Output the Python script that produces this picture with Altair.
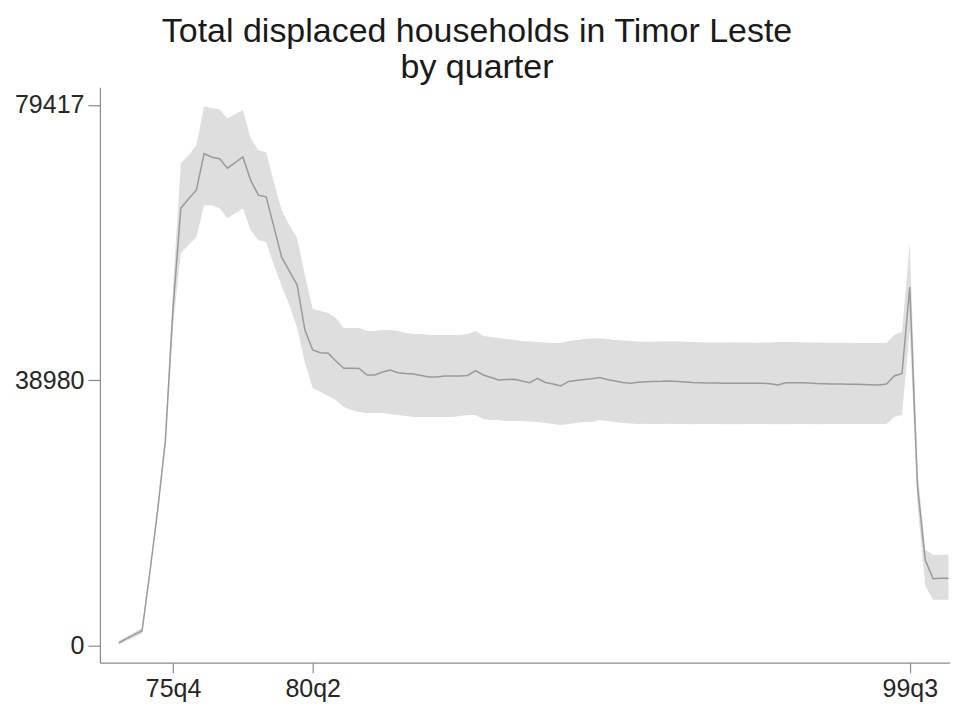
import altair as alt
import pandas as pd

# Quarterly series, 1974q1 .. 2000q4
years = list(range(1974, 2001))
quarters = [f"{str(y)[2:]}q{q}" for y in years for q in range(1, 5)]

mean_hh = [
    340, 970, 1560, 2140, 10700, 19760, 30040,            # 74q1..75q3
    49710, 64250, 65630, 66890, 72280, 71740, 71520, 70120, 70930, 71780,
    68360, 66160, 65910, 61500, 57050, 55000, 52940, 46340,
    43400, 43000, 42920, 41790, 40710, 40710, 40680, 39730, 39730, 40170,
    40460, 40070, 39950, 39880, 39660, 39440, 39440, 39580, 39580, 39580,
    39660, 40360, 39730, 39360, 38990, 39070, 39100, 38850, 38600, 39240,
    38630, 38410, 38110, 38780, 38920, 39070, 39170, 39360, 39070, 38850,
    38630, 38510, 38670, 38750, 38780, 38800, 38850, 38780, 38700, 38630,
    38600, 38550, 38550, 38520, 38510, 38510, 38510, 38510, 38510, 38440,
    38260, 38600, 38600, 38600, 38550, 38480, 38440, 38410, 38410, 38380,
    38360, 38330, 38300, 38260, 38410, 39580, 39950,
    52650, 23290, 12570, 9780, 9850, 9850,
]
upper_hh = [
    680, 1260, 1920, 2580, 11100, 20200, 30630,
    52940, 70850, 72030, 73500, 79220, 78930, 78780, 77460, 78050, 78640,
    74520, 72760, 72470, 68070, 63950, 61750, 59840, 54410,
    49420, 49130, 48830, 48100, 46630, 46630, 46630, 46190, 46190, 46340,
    46340, 46190, 45900, 45750, 45750, 45600, 45600, 45600, 45600, 45600,
    45750, 46190, 45460, 45310, 45160, 45010, 44870, 44720, 44650, 44570,
    44500, 44430, 44430, 44720, 44870, 45010, 45090, 45120, 45010, 44870,
    44790, 44720, 44650, 44620, 44600, 44650, 44700, 44680, 44600, 44560,
    44540, 44520, 44500, 44520, 44540, 44520, 44500, 44480, 44500, 44520,
    44560, 44580, 44560, 44540, 44520, 44500, 44480, 44470, 44460, 44450,
    44440, 44430, 44430, 44430, 44430, 45600, 46090,
    59110, 25780, 14040, 13300, 13300, 13300,
]
lower_hh = [
    160, 680, 1190, 1700, 10290, 19320, 29450,
    47070, 57640, 58820, 59990, 64690, 64690, 64250, 62780, 63510, 64250,
    61020, 59550, 59260, 55880, 52800, 50010, 46630, 41490,
    37820, 37230, 36650, 36060, 35030, 34590, 34300, 34150, 34150, 34150,
    34000, 33860, 33710, 33560, 33560, 33560, 33560, 33560, 33560, 33710,
    33860, 33860, 33270, 33120, 33120, 32980, 32980, 32980, 32900, 32830,
    32680, 32540, 32390, 32540, 32680, 32830, 32830, 33120, 32980, 32830,
    32680, 32610, 32540, 32560, 32520, 32540, 32560, 32540, 32520, 32500,
    32520, 32540, 32520, 32500, 32480, 32500, 32520, 32540, 32520, 32500,
    32480, 32500, 32520, 32540, 32520, 32500, 32520, 32540, 32520, 32540,
    32540, 32520, 32540, 32540, 32540, 33560, 33860,
    46340, 20640, 8750, 6690, 6690, 6690,
]

tick_labels = ["75q4", "80q2", "99q3"]
y_ticks = [0, 38980, 79417]

df = pd.DataFrame({
    "idx": list(range(len(quarters))),
    "quarter": quarters,
    "mean": mean_hh,
    "upper": upper_hh,
    "lower": lower_hh,
})

tick_idx = [quarters.index(q) for q in tick_labels]
label_expr = " : ".join(
    f"datum.value == {i} ? '{lab}'" for i, lab in zip(tick_idx, tick_labels)
) + " : ''"

x_scale = alt.Scale(domain=[-2.44, 107.19], nice=False, zero=False)
y_scale = alt.Scale(domain=[-2555, 82016], nice=False, zero=False)

x_axis = alt.Axis(
    values=tick_idx, labelExpr=label_expr, title=None, grid=False,
    tickSize=10, labelFontSize=25, labelPadding=4, labelFont="Liberation Sans",
    labelColor="#262626", domainColor="#8a8a8a", tickColor="#8a8a8a",
    domainWidth=1.2, tickWidth=1.2, labelFlush=False,
)
y_axis = alt.Axis(
    values=y_ticks, format="d", title=None, grid=False,
    tickSize=12, labelFontSize=25, labelPadding=4, labelFont="Liberation Sans",
    labelColor="#262626", domainColor="#8a8a8a", tickColor="#8a8a8a",
    domainWidth=1.2, tickWidth=1.2,
)

band = alt.Chart(df).mark_area(color="#dedede", opacity=1).encode(
    x=alt.X("idx:Q", scale=x_scale, axis=x_axis),
    y=alt.Y("lower:Q", scale=y_scale, axis=y_axis),
    y2="upper:Q",
)
line = alt.Chart(df).mark_line(color="#9a9a9a", strokeWidth=1.5).encode(
    x=alt.X("idx:Q", scale=x_scale),
    y=alt.Y("mean:Q", scale=y_scale),
)

chart = (band + line).properties(
    width=851,
    height=576,
    autosize=alt.AutoSizeParams(type="none"),
    padding={"left": 92, "top": 79, "right": 0, "bottom": 42},
    title=alt.TitleParams(
        ["Total displaced households in Timor Leste", "by quarter"],
        fontSize=34, font="Liberation Sans", fontWeight="normal",
        color="#1a1a1a", anchor="middle", frame="bounds", offset=2,
        lineHeight=36, dx=-6,
    ),
).configure(background="white").configure_view(stroke=None, strokeWidth=0)

chart.save("out.html", embed_options={"renderer": "svg", "actions": False})
